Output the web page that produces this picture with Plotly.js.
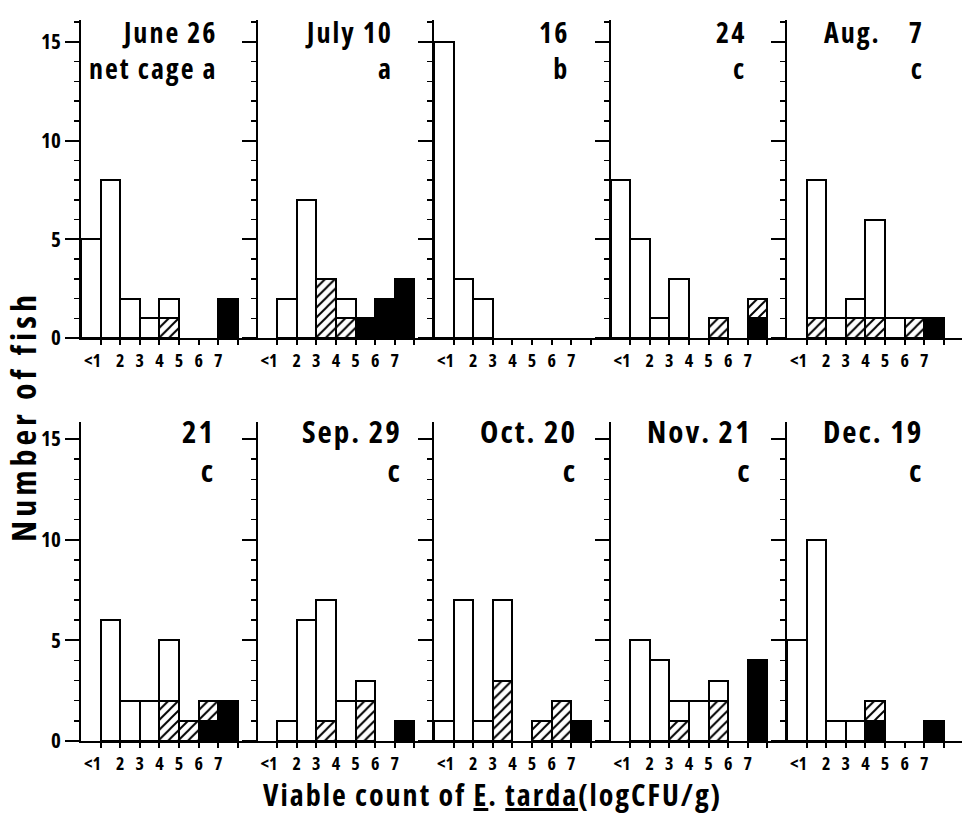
<!DOCTYPE html>
<html>
<head>
<meta charset="utf-8">
<script src="https://cdn.plot.ly/plotly-3.0.1.min.js"></script>
<style>
  html, body { margin: 0; padding: 0; background: #fff; }
  #chart { width: 962px; height: 818px; }
  text { font-stretch: 75% !important; }
  .annotation-text { letter-spacing: 2px; }
</style>
</head>
<body>
<div id="chart"></div>
<script>
// ---- data ----
const binLabels = ['<1', '2', '3', '4', '5', '6', '7'];
const panelDates = ['June 26', 'July 10', '16', '24', 'Aug.\u00a0\u00a0\u00a0\u00a07',
                    '21', 'Sep. 29', 'Oct. 20', 'Nov. 21', 'Dec. 19'];
const panelCages = ['net cage a', 'a', 'b', 'c', 'c', 'c', 'c', 'c', 'c', 'c'];
// counts per bin (8 bins: below <1 ... above 7), stacked black / hatched / open
const openFish = [
  [5, 8, 2, 1, 1, 0, 0, 0],
  [0, 2, 7, 0, 1, 0, 0, 0],
  [15, 3, 2, 0, 0, 0, 0, 0],
  [8, 5, 1, 3, 0, 0, 0, 0],
  [0, 7, 1, 1, 5, 1, 0, 0],
  [0, 6, 2, 2, 3, 0, 0, 0],
  [0, 1, 6, 6, 2, 1, 0, 0],
  [1, 7, 1, 4, 0, 0, 0, 0],
  [0, 5, 4, 1, 2, 1, 0, 0],
  [5, 10, 1, 1, 0, 0, 0, 0]
];
const hatchedFish = [
  [0, 0, 0, 0, 1, 0, 0, 0],
  [0, 0, 0, 3, 1, 0, 0, 0],
  [0, 0, 0, 0, 0, 0, 0, 0],
  [0, 0, 0, 0, 0, 1, 0, 1],
  [0, 1, 0, 1, 1, 0, 1, 0],
  [0, 0, 0, 0, 2, 1, 1, 0],
  [0, 0, 0, 1, 0, 2, 0, 0],
  [0, 0, 0, 3, 0, 1, 2, 0],
  [0, 0, 0, 1, 0, 2, 0, 0],
  [0, 0, 0, 0, 1, 0, 0, 0]
];
const blackFish = [
  [0, 0, 0, 0, 0, 0, 0, 2],
  [0, 0, 0, 0, 0, 1, 2, 3],
  [0, 0, 0, 0, 0, 0, 0, 0],
  [0, 0, 0, 0, 0, 0, 0, 1],
  [0, 0, 0, 0, 0, 0, 0, 1],
  [0, 0, 0, 0, 0, 0, 1, 2],
  [0, 0, 0, 0, 0, 0, 0, 1],
  [0, 0, 0, 0, 0, 0, 0, 1],
  [0, 0, 0, 0, 0, 0, 0, 4],
  [0, 0, 0, 0, 1, 0, 0, 1]
];

// ---- layout helpers (positions / styles) ----
const W = 962, H = 818;
const colStart = [81, 257.5, 434, 610.5, 787];
const colEnd = [257.5, 434, 610.5, 787, 962];
const binPx = 19.61;
const rowBase = [338, 741];   // pixel y of zero line
const rowTop = [20, 422];     // pixel y of axis top
const rowUnit = [19.75, 20.13];
const labelTopPx = [11, 408]; // pixel y of top of the panel label block
const labelSpanFont = [28, 31];
const labelLineFont = [27.6, 30]; // base size -> sets line spacing
const titleRight = [7.1, 7.0, 7.0, 7.0, 7.1, 6.95, 7.45, 7.4, 7.3, 7.05];
const FONT = 'Open Sans, Roboto, DejaVu Sans, sans-serif';

const xCenters = [0.5, 1.5, 2.5, 3.5, 4.5, 5.5, 6.5, 7.5];
const nz = a => a.map(v => (v === 0 ? null : v));

const traces = [];
const layout = {
  width: W, height: H,
  margin: {l: 0, r: 0, t: 0, b: 0},
  paper_bgcolor: '#fff', plot_bgcolor: 'rgba(0,0,0,0)',
  barmode: 'stack', bargap: 0, showlegend: false,
  font: {family: FONT, color: '#000', weight: 700},
  annotations: []
};

for (let k = 0; k < 10; k++) {
  const col = k % 5, row = Math.floor(k / 5);
  const xa = 'x' + (k + 1), ya = 'y' + (k + 1);
  const line = {color: '#000', width: 2};
  traces.push({type: 'bar', x: xCenters, y: nz(blackFish[k]), width: 1,
    xaxis: xa, yaxis: ya, marker: {color: '#000', line: line}, hoverinfo: 'skip'});
  traces.push({type: 'bar', x: xCenters, y: nz(hatchedFish[k]), width: 1,
    xaxis: xa, yaxis: ya,
    marker: {color: '#fff', line: line,
      pattern: {shape: '/', fgcolor: '#000', bgcolor: '#fff', size: 7, solidity: 0.28}},
    hoverinfo: 'skip'});
  traces.push({type: 'bar', x: xCenters, y: nz(openFish[k]), width: 1,
    xaxis: xa, yaxis: ya, marker: {color: '#fff', line: line}, hoverinfo: 'skip'});

  const rngX = (colEnd[col] - colStart[col]) / binPx;
  const rngY = (rowBase[row] - rowTop[row]) / rowUnit[row];
  const tickText = binLabels.map((t, i) => (i === 0 ? t + '\u00a0\u00a0\u00a0\u00a0\u00a0' : t)).concat(['']);
  layout['xaxis' + (k + 1)] = {
    domain: [colStart[col] / W, colEnd[col] / W],
    range: [0, rngX], anchor: ya, fixedrange: true,
    showline: true, linecolor: '#000', linewidth: 2,
    showgrid: false, zeroline: false,
    ticks: 'outside', ticklen: 5, tickwidth: 2, tickcolor: '#000',
    tickmode: 'array', tickvals: [1, 2, 3, 4, 5, 6, 7, 8], ticktext: tickText,
    tickangle: 0,
    tickfont: {size: 18, family: FONT, weight: 700}
  };
  layout['yaxis' + (k + 1)] = {
    domain: [(H - rowBase[row]) / H, (H - rowTop[row]) / H],
    range: [0, rngY], anchor: xa, fixedrange: true,
    showline: true, linecolor: '#000', linewidth: 2,
    showgrid: false, zeroline: false,
    ticks: 'outside', ticklen: 14, tickwidth: 2, tickcolor: '#000',
    tickmode: 'array', tickvals: [0, 5, 10, 15],
    showticklabels: col === 0,
    tickfont: {size: 21, family: FONT, weight: 700},
    minor: {tickmode: 'array', tickvals: [1, 2, 3, 4, 6, 7, 8, 9, 11, 12, 13, 14, 16],
            ticks: 'outside', ticklen: 5, tickwidth: 1.5, tickcolor: '#000'}
  };

  const fs = labelSpanFont[row];
  layout.annotations.push({
    text: '<span style="font-size:' + fs + 'px">' + panelDates[k] + '</span><br>' +
          '<span style="font-size:' + fs + 'px">' + panelCages[k] + '</span>',
    xref: xa, yref: 'paper', x: titleRight[k], y: (H - labelTopPx[row]) / H,
    xanchor: 'right', yanchor: 'top', align: 'right', showarrow: false,
    font: {size: labelLineFont[row], family: FONT, weight: 700}
  });
}

layout.annotations.push({
  text: '<span style="letter-spacing:4px">Number of fish</span>',
  xref: 'paper', yref: 'paper', x: 23 / W, y: (H - 417) / H,
  xanchor: 'center', yanchor: 'middle', textangle: -90, showarrow: false,
  font: {size: 34, family: FONT, weight: 700}
});
layout.annotations.push({
  text: '<span style="letter-spacing:2px">Viable count of <u>E</u>. <u>tarda</u>(logCFU/g)</span>',
  xref: 'paper', yref: 'paper', x: 492 / W, y: (H - 794) / H,
  xanchor: 'center', yanchor: 'middle', showarrow: false,
  font: {size: 30, family: FONT, weight: 700}
});

Plotly.newPlot('chart', traces, layout, {displayModeBar: false, staticPlot: true});
</script>
</body>
</html>
